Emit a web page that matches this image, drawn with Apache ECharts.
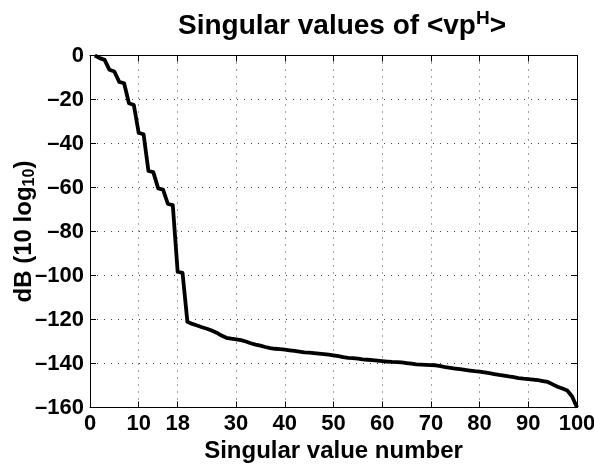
<!DOCTYPE html>
<html>
<head>
<meta charset="utf-8">
<script src="https://cdn.jsdelivr.net/npm/echarts@6/dist/echarts.min.js"></script>
<style>
  html, body { margin: 0; padding: 0; background: #fff; }
  #chart { width: 594px; height: 466px; }
</style>
</head>
<body>
<div id="chart"></div>
<script>
// singular value index
const svIndex = Array.from({ length: 100 }, (_, i) => i + 1);
// dB (10 log10)
const svDb = [
  0, -1.2, -2, -6.5, -7.3, -12, -12.6, -21.7, -22.5, -35.2,
  -35.8, -52.5, -53, -60.4, -61, -67.5, -68, -98.3, -98.8, -121,
  -122, -122.7, -123.5, -124.2, -125, -126, -127.3, -128.3, -128.7, -129,
  -129.4, -130, -130.8, -131.4, -131.9, -132.5, -133, -133.3, -133.5, -133.7,
  -134, -134.3, -134.6, -134.9, -135.1, -135.3, -135.5, -135.7, -136, -136.3,
  -136.7, -137.1, -137.4, -137.6, -137.8, -138.1, -138.3, -138.5, -138.7, -138.9,
  -139.1, -139.3, -139.4, -139.5, -139.8, -140.1, -140.4, -140.5, -140.6, -140.7,
  -140.8, -141.2, -141.7, -142, -142.3, -142.6, -142.9, -143.2, -143.5, -143.7,
  -144, -144.4, -144.8, -145.2, -145.5, -145.9, -146.2, -146.6, -146.9, -147.1,
  -147.3, -147.6, -148, -148.4, -149.5, -150.6, -151.4, -152.3, -155, -160,
];
// x tick positions (MATLAB style, 18 marked)
const xTicks = [0, 10, 18, 30, 40, 50, 60, 70, 80, 90, 100];

const chart = echarts.init(document.getElementById("chart"));

const font = "'Liberation Sans', Arial, sans-serif";
const gridDots = { color: "#444", width: 1, type: [1, 6] };

const option = {
  animation: false,
  backgroundColor: "#fff",
  title: {
    text: "Singular values of <vp{sup|H}>",
    left: 337,
    textAlign: "center",
    top: 4,
    textStyle: {
      fontFamily: font,
      fontSize: 28,
      fontWeight: "bold",
      color: "#000",
      rich: {
        sup: {
          fontFamily: font,
          fontSize: 19,
          fontWeight: "bold",
          color: "#000",
          verticalAlign: "top",
          padding: [0, 0, 16, 0],
        },
      },
    },
  },
  grid: { left: 90, right: 17, top: 55.5, bottom: 58.5, outerBoundsMode: "none" },
  xAxis: [
    {
      type: "value",
      min: 0,
      max: 100,
      name: "Singular value number",
      nameLocation: "middle",
      nameGap: 32,
      nameTextStyle: { fontFamily: font, fontSize: 24, fontWeight: "bold", color: "#000" },
      axisLine: { onZero: false, lineStyle: { color: "#000", width: 1 } },
      axisTick: { inside: true, length: 6, customValues: xTicks, lineStyle: { color: "#000" } },
      axisLabel: {
        customValues: xTicks,
        margin: 5,
        fontFamily: font,
        fontSize: 22,
        fontWeight: "bold",
        color: "#000",
      },
      splitLine: { show: true, lineStyle: gridDots },
    },
    {
      type: "value",
      position: "top",
      min: 0,
      max: 100,
      axisLine: { onZero: false, lineStyle: { color: "#000", width: 1 } },
      axisTick: { inside: true, length: 6, customValues: xTicks, lineStyle: { color: "#000" } },
      axisLabel: { show: false },
      splitLine: { show: false },
    },
  ],
  yAxis: [
    {
      type: "value",
      min: -160,
      max: 0,
      interval: 20,
      name: "dB (10 log{sub|10})",
      nameLocation: "middle",
      nameGap: 52,
      nameMoveOverlap: false,
      nameTextStyle: {
        fontFamily: font,
        fontSize: 24,
        fontWeight: "bold",
        color: "#000",
        rich: {
          sub: {
            fontFamily: font,
            fontSize: 16,
            fontWeight: "bold",
            color: "#000",
            verticalAlign: "bottom",
            padding: [12, 0, 0, 0],
          },
        },
      },
      axisLine: { onZero: false, lineStyle: { color: "#000", width: 1 } },
      axisTick: { inside: true, length: 6, lineStyle: { color: "#000" } },
      axisLabel: {
        margin: 6,
        fontFamily: font,
        fontSize: 22,
        fontWeight: "bold",
        color: "#000",
        formatter: (v) => String(v).replace("-", "\u2013"),
      },
      splitLine: { show: true, lineStyle: gridDots },
    },
    {
      type: "value",
      position: "right",
      min: -160,
      max: 0,
      interval: 20,
      axisLine: { onZero: false, lineStyle: { color: "#000", width: 1 } },
      axisTick: { inside: true, length: 6, lineStyle: { color: "#000" } },
      axisLabel: { show: false },
      splitLine: { show: false },
    },
  ],
  series: [
    {
      type: "line",
      data: svIndex.map((x, i) => [x, svDb[i]]),
      showSymbol: false,
      symbol: "none",
      lineStyle: { color: "#000", width: 3.8, join: "round" },
      clip: true,
    },
  ],
};

chart.setOption(option);
</script>
</body>
</html>
